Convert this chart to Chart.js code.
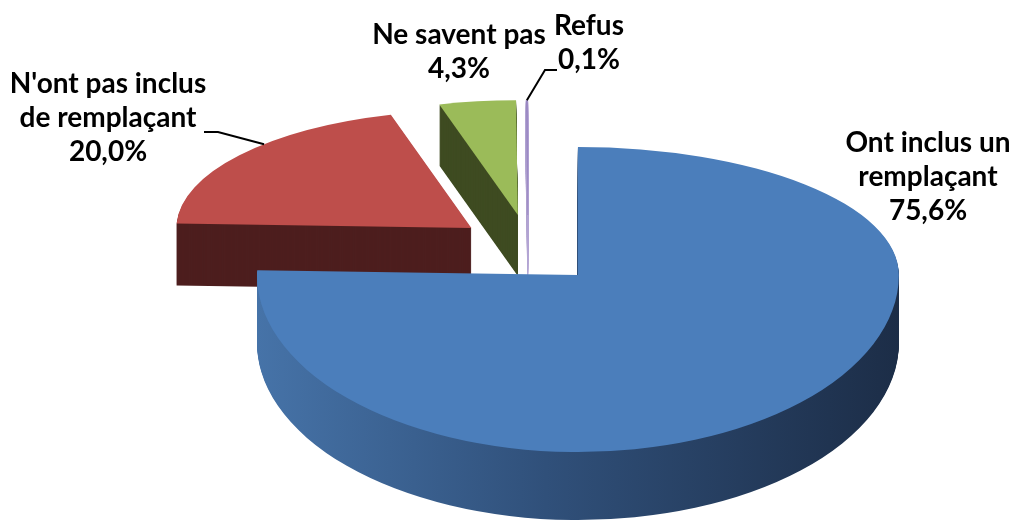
<!DOCTYPE html>
<html><head><meta charset="utf-8">
<script src="https://cdn.jsdelivr.net/npm/chart.js@4.4.1/dist/chart.umd.min.js"></script>
<style>html,body{margin:0;padding:0;background:#fff}canvas{display:block}</style>
</head><body>
<canvas id="c" width="1014" height="523"></canvas>
<script>
// ---- data ----
const categories = [["Ont inclus un", "remplaçant"], ["N'ont pas inclus", "de remplaçant"], ["Ne savent pas"], ["Refus"]];
const values = [75.6, 20.0, 4.3, 0.1];
const topColors = ['#4b7ebb', '#be4e4b', '#9bbb59', '#9a88c2'];
const sideColors = ['gradient', '#4d1e1e', '#3e4b21', '#b2a6d2'];

function fmtPct(v) { return v.toFixed(1).replace('.', ',') + '%'; }

// ---- 3D pie drawing plugin ----
function geom(a, o) {
  const h = (a.startAngle + a.endAngle) / 2;
  const ax = o.center[0] + Math.cos(h) * o.explode[0];
  const ayRaw = o.center[1] + Math.sin(h) * o.explode[1];
  const f = 1 + o.persp * (ayRaw - o.center[1]);
  const R = a.outerRadius;
  return {
    ax: ax, ay: Math.round(ayRaw), f: f, R: R,
    sx: o.rx * f / R, syT: o.ryTop * f / R, syB: o.ryBottom * f / R,
    depth: Math.round(o.depth * f)
  };
}
function drawArcAs(a, ctx, fill, bw, bc) {
  const el = Object.create(a);
  el.options = Object.assign({}, a.options, { backgroundColor: fill, borderColor: bc, borderWidth: bw, offset: 0 });
  el.draw(ctx);
}
const pie3d = {
  id: 'pie3d',
  beforeDatasetsDraw(chart, args, o) {
    const ctx = chart.ctx;
    const arcs = chart.getDatasetMeta(0).data;
    const base = ctx.getTransform();
    const W = chart.width, H = chart.height;
    const order = [3, 2, 1, 0];
    for (const i of order) {
      const a = arcs[i];
      const g = geom(a, o);
      const bw = a.options.borderWidth || 0;
      for (let d = g.depth; d >= 0; d--) {
        for (let half = 0; half < 2; half++) {
          const yb = g.ay + d;
          ctx.save();
          ctx.beginPath();
          if (half === 0) ctx.rect(0, -2000, W, yb + 2000); else ctx.rect(0, yb, W, H + 2000);
          ctx.clip();
          const sy = half === 0 ? g.syT : g.syB;
          ctx.setTransform(base.multiply(new DOMMatrix([g.sx, 0, 0, sy, g.ax - g.sx * a.x, yb - sy * a.y])));
          let fill;
          if (d === 0) fill = a.options.backgroundColor;
          else if (sideColors[i] === 'gradient') {
            const gr = ctx.createLinearGradient(a.x - g.R, 0, a.x + g.R, 0);
            o.blueSide.forEach(s => gr.addColorStop(s[0], s[1]));
            fill = gr;
          } else fill = sideColors[i];
          const bc = d === 0 ? a.options.borderColor : sideColors[i];
          drawArcAs(a, ctx, fill, bw, bc);
          ctx.restore();
        }
      }
    }
    return false;
  },
  afterDraw(chart, args, o) {
    const ctx = chart.ctx;
    const arcs = chart.getDatasetMeta(0).data;
    ctx.save();
    ctx.font = 'bold ' + o.fontSize + 'px ' + o.fontFamily;
    ctx.fillStyle = '#000';
    ctx.textAlign = 'center';
    ctx.textBaseline = 'alphabetic';
    categories.forEach((lines, i) => {
      const L = o.labels[i];
      const all = lines.concat([fmtPct(values[i])]);
      all.forEach((t, k) => ctx.fillText(t, L.x, L.y + k * o.lineHeight));
      if (L.leader) {
        const a = arcs[i];
        const g = geom(a, o);
        const ang = a.startAngle + L.leader.t * (a.endAngle - a.startAngle);
        const s = Math.sin(ang);
        const px = g.ax + Math.cos(ang) * o.rx * g.f;
        const py = g.ay + s * (s < 0 ? o.ryTop : o.ryBottom) * g.f;
        ctx.beginPath();
        ctx.moveTo(px, py);
        L.leader.pts.forEach(p => ctx.lineTo(p[0], p[1]));
        ctx.lineWidth = 2;
        ctx.strokeStyle = '#000';
        ctx.stroke();
      }
    });
    ctx.restore();
  }
};

new Chart(document.getElementById('c'), {
  type: 'pie',
  data: {
    labels: categories,
    datasets: [{
      data: values,
      backgroundColor: topColors,
      borderColor: topColors,
      borderWidth: [0, 0, 0, 0.45],
      radius: 200,
      clip: false
    }]
  },
  options: {
    responsive: false,
    animation: false,
    events: [],
    rotation: 0,
    layout: { padding: 0 },
    plugins: {
      legend: { display: false },
      tooltip: { enabled: false },
      pie3d: {
        center: [528, 250],
        explode: [72, 35],
        persp: 0.0018,
        rx: 307, ryTop: 122.5, ryBottom: 169.4, depth: 65,
        blueSide: [[0, '#4673a8'], [0.45, '#30507a'], [1, '#1c2d47']],
        fontFamily: 'Lato, sans-serif',
        fontSize: 28,
        lineHeight: 34,
        labels: [
          { x: 928, y: 152 },
          { x: 108, y: 93, leader: { t: 0.6, pts: [[218, 132], [204, 132]] } },
          { x: 459, y: 44 },
          { x: 589, y: 35, leader: { t: 0.5, pts: [[545, 70], [557, 70]] } }
        ]
      }
    }
  },
  plugins: [pie3d]
});
</script>
</body></html>
